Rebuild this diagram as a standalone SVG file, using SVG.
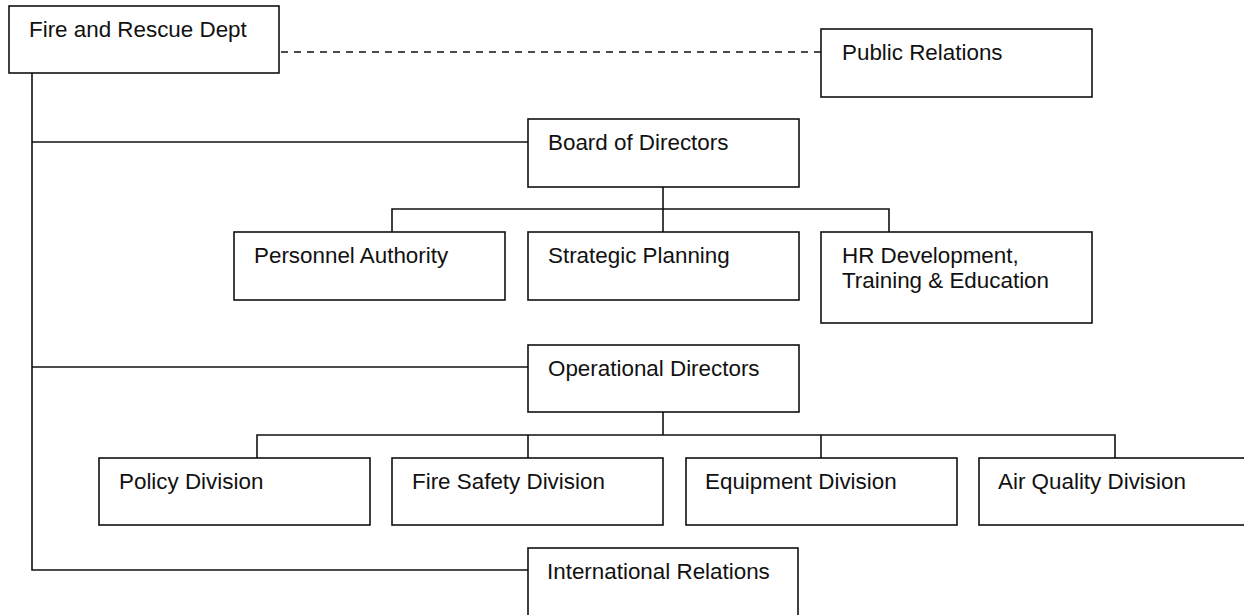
<svg xmlns="http://www.w3.org/2000/svg" width="1244" height="615" viewBox="0 0 1244 615">
<style>
.box{fill:#fff;stroke:#111;stroke-width:1.6}
.lbl{font-family:"Liberation Sans",Arial,Helvetica,sans-serif;font-size:22.4px;fill:#111}
.con{fill:none;stroke:#111;stroke-width:1.6}
.dash{stroke-dasharray:7 6}
</style>
<rect width="1244" height="615" fill="#fff"/>
<g id="connectors">
<path class="con" d="M32,73 V570 H528"/>
<path class="con" d="M32,142 H528"/>
<path class="con" d="M32,367 H528"/>
<path class="con dash" d="M281,52 H821"/>
<path class="con" d="M663,187 V232"/>
<path class="con" d="M392,232 V209 H889 V232"/>
<path class="con" d="M663,412 V435"/>
<path class="con" d="M257,458 V435 H1115 V458"/>
<path class="con" d="M528,435 V458"/>
<path class="con" d="M821,435 V458"/>
</g>
<g id="fire-rescue"><rect class="box" x="9" y="6" width="270" height="67"/><text class="lbl" x="29" y="37">Fire and Rescue Dept</text></g>
<g id="public-relations"><rect class="box" x="821" y="29" width="271" height="68"/><text class="lbl" x="842" y="60">Public Relations</text></g>
<g id="board"><rect class="box" x="528" y="119" width="271" height="68"/><text class="lbl" x="548" y="150">Board of Directors</text></g>
<g id="personnel"><rect class="box" x="234" y="232" width="271" height="68"/><text class="lbl" x="254" y="263">Personnel Authority</text></g>
<g id="strategic"><rect class="box" x="528" y="232" width="271" height="68"/><text class="lbl" x="548" y="263">Strategic Planning</text></g>
<g id="hr"><rect class="box" x="821" y="232" width="271" height="91"/><text class="lbl" x="842" y="263">HR Development,</text><text class="lbl" x="842" y="288">Training &amp; Education</text></g>
<g id="operational"><rect class="box" x="528" y="345" width="271" height="67"/><text class="lbl" x="548" y="376">Operational Directors</text></g>
<g id="policy"><rect class="box" x="99" y="458" width="271" height="67"/><text class="lbl" x="119" y="489">Policy Division</text></g>
<g id="fire-safety"><rect class="box" x="392" y="458" width="271" height="67"/><text class="lbl" x="412" y="489">Fire Safety Division</text></g>
<g id="equipment"><rect class="box" x="686" y="458" width="271" height="67"/><text class="lbl" x="705" y="489">Equipment Division</text></g>
<g id="air-quality"><rect class="box" x="979" y="458" width="271" height="67"/><text class="lbl" x="998" y="489">Air Quality Division</text></g>
<g id="international"><rect class="box" x="528" y="548" width="270" height="68"/><text class="lbl" x="547" y="579">International Relations</text></g>
</svg>
